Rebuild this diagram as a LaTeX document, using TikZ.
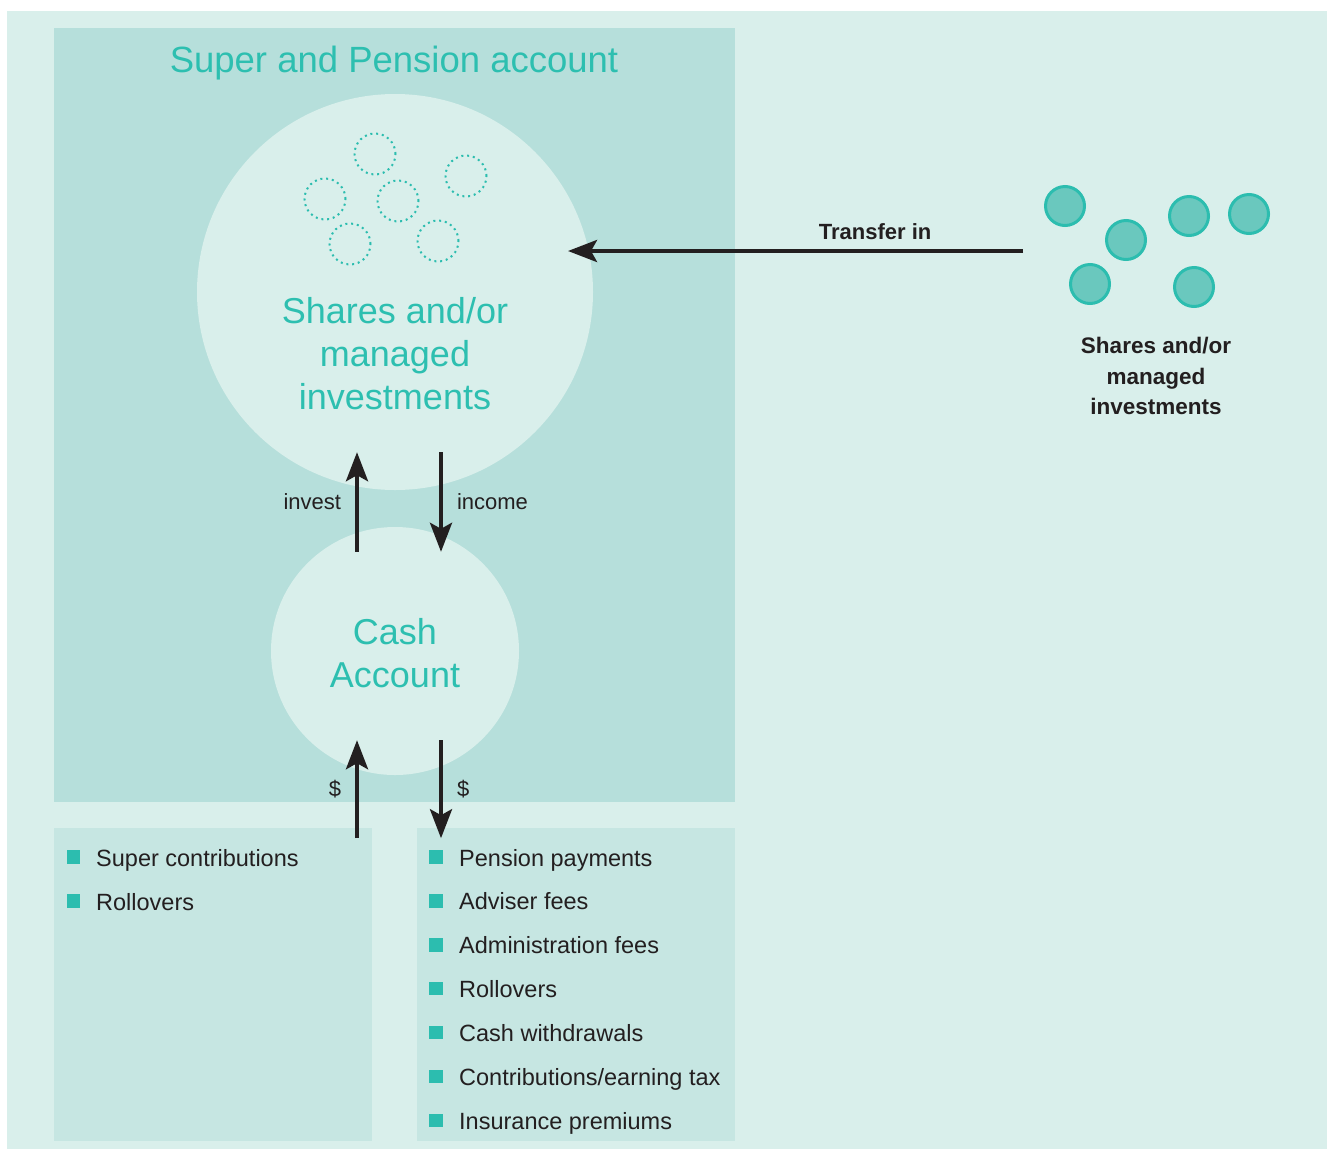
\documentclass[tikz,border=0pt]{standalone}
\usepackage{fontspec}
\setmainfont{Liberation Sans}
\usetikzlibrary{arrows.meta,positioning}
\definecolor{mintbg}{HTML}{D9EFEB}
\definecolor{panelteal}{HTML}{B6DFDB}
\definecolor{boxteal}{HTML}{C6E6E2}
\definecolor{titleteal}{HTML}{2DBFB0}
\definecolor{bulletteal}{HTML}{2CBDAF}
\definecolor{holdfill}{HTML}{6AC8BE}
\definecolor{inkdark}{HTML}{231F20}

\begin{document}
\begin{tikzpicture}[x=1pt,y=-1pt]
      \tikzstyle{panel}=[fill=panelteal]
      \tikzstyle{pot}=[circle,fill=mintbg,inner sep=0pt]
      \tikzstyle{pottext}=[text=titleteal,align=center,inner sep=0pt,font=\fontsize{36}{43}\selectfont]
      \tikzstyle{flow}=[line width=4pt,draw=inkdark,-{Stealth[length=29pt,width=22pt,inset=6pt]}]
      \tikzstyle{flowlabel}=[text=inkdark,inner sep=0pt,font=\fontsize{22}{26}\selectfont]
      \tikzstyle{holding}=[circle,minimum size=39pt,inner sep=0pt,line width=3pt,draw=bulletteal,fill=holdfill]
      \tikzstyle{ghost}=[circle,minimum size=41pt,inner sep=0pt,draw=bulletteal,line width=2pt,dash pattern=on 2pt off 3.8pt]
      \tikzstyle{bullet}=[fill=bulletteal,minimum size=13.5pt,inner sep=0pt]
      \tikzstyle{item}=[anchor=base west,inner sep=0pt,text=inkdark,font=\fontsize{23.5}{28}\selectfont]
      \useasboundingbox (0,0) rectangle (1327,1149);
      % Background and account panel
      \fill[mintbg] (7,11) rectangle (1327,1149);
      \fill[panel] (54,28) rectangle (735,802);
      \fill[boxteal] (54,828) rectangle (372,1141);
      \fill[boxteal] (417,828) rectangle (735,1141);
      \node (title) at (394,63) [text=titleteal,font=\fontsize{36.5}{43}\selectfont] {Super and Pension account};
      % Pots inside the account
      \node (shares) at (395,292) [pot,minimum size=396pt] {};
      \node (cash) at (395,651) [pot,minimum size=248pt] {};
      \node (sharesText) at (395,354) [pottext] {Shares and/or\\managed\\investments};
      \node (cashText) at (395,653) [pottext] {Cash\\Account};
      % Dotted holdings
      \foreach \x/\y [count=\i] in {375/154,466/176,325/199,398/201,350/244,438/241}
        \node (ghost\i) at (\x,\y) [ghost] {};
      % Holdings outside
      \foreach \x/\y [count=\i] in {1065/206,1126/240,1189/216,1249/214,1090/284,1194/287}
        \node (ball\i) at (\x,\y) [holding] {};
      \node (outsideText) at (1156,376) [align=center,inner sep=0pt,text=inkdark,font=\bfseries\fontsize{22.5}{30.5}\selectfont] {Shares and/or\\managed\\investments};
      % Transfer in
      \coordinate (transferStart) at (1023,251);
      \coordinate (transferEnd) at (568,251);
      \draw[flow] (transferStart) -- node[pos=0.325,above=9pt,flowlabel,font=\bfseries\fontsize{22}{26}\selectfont] {Transfer in} (transferEnd);
      % invest / income
      \draw[flow] ([xshift=-38pt,yshift=-25pt]cash.north) -- node[left=14pt,flowlabel] {invest} ([xshift=-38pt,yshift=38pt]shares.south);
      \draw[flow] ([xshift=46pt,yshift=38pt]shares.south) -- node[right=14pt,flowlabel] {income} ([xshift=46pt,yshift=-25pt]cash.north);
      % money in and out
      \draw[flow] ([xshift=-38pt,yshift=-63pt]cash.south) -- node[left=14pt,flowlabel] {\$} ([xshift=-38pt,yshift=35pt]cash.south);
      \draw[flow] ([xshift=46pt,yshift=35pt]cash.south) -- node[right=14pt,flowlabel] {\$} ([xshift=46pt,yshift=-63pt]cash.south);
      % Lists
      \foreach \txt [count=\i] in {Super contributions,Rollovers} {
        \node (inBullet\i) at (73.5,{857+44*(\i-1)}) [bullet] {};
        \node (inItem\i) at (96,{866+44*(\i-1)}) [item] {\txt};
      }
      \foreach \txt [count=\i] in {Pension payments,Adviser fees,Administration fees,Rollovers,Cash withdrawals,Contributions/earning tax,Insurance premiums} {
        \node (outBullet\i) at (436,{857+43.9*(\i-1)}) [bullet] {};
        \node (outItem\i) at (459,{866+43.9*(\i-1)}) [item] {\txt};
      }
    \end{tikzpicture}
\end{document}
